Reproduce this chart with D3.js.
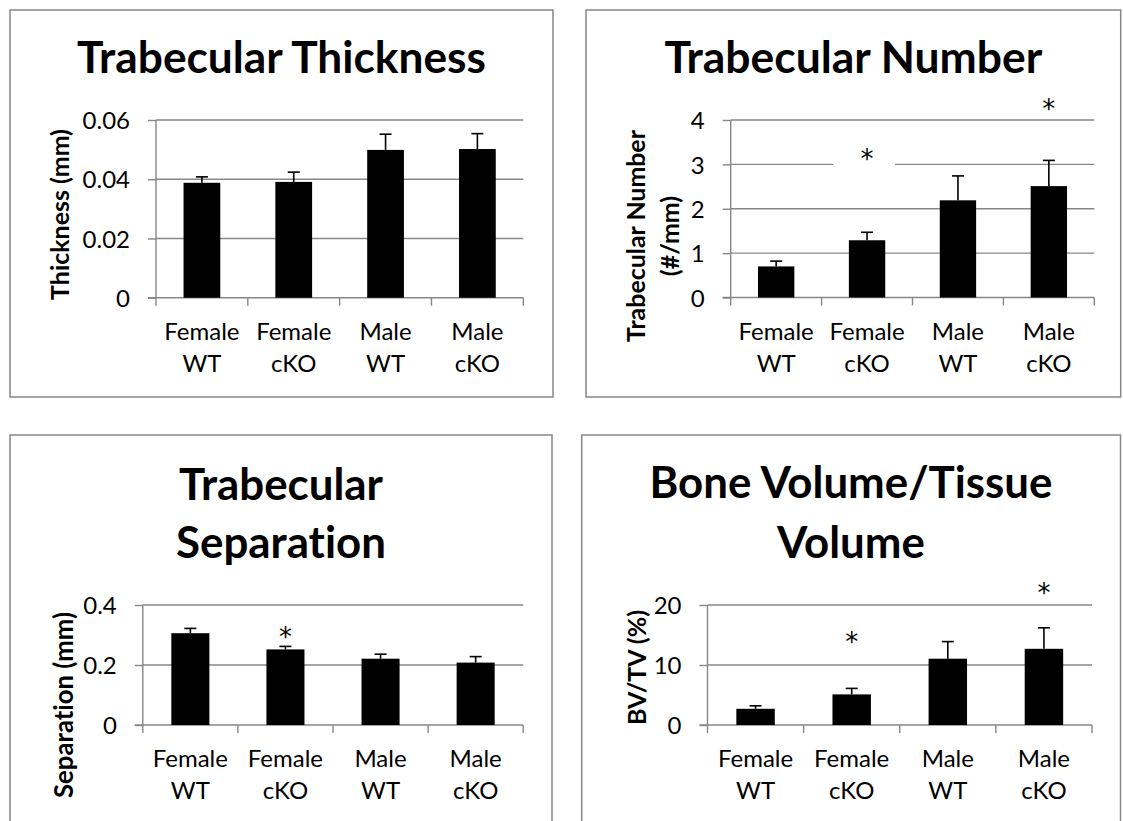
<!DOCTYPE html>
<html>
<head>
<meta charset="utf-8">
<script src="https://cdn.jsdelivr.net/npm/d3@7"></script>
<style>
  html, body { margin: 0; padding: 0; background: #fff; }
  svg { display: block; font-family: Lato, "Open Sans", sans-serif; font-variant-ligatures: none; }
</style>
</head>
<body>
<svg id="chart" width="1123" height="821"></svg>
<script>
// ---------- data ----------
const categories = [["Female", "WT"], ["Female", "cKO"], ["Male", "WT"], ["Male", "cKO"]];

const thicknessValues = [0.0388, 0.0391, 0.0499, 0.0502];
const thicknessErrors = [0.0020, 0.0033, 0.0053, 0.0052];
const thicknessTicks  = [0, 0.02, 0.04, 0.06];
const thicknessTickLabels = ["0", "0.02", "0.04", "0.06"];

const numberValues = [0.70, 1.29, 2.19, 2.51];
const numberErrors = [0.12, 0.18, 0.55, 0.58];
const numberTicks  = [0, 1, 2, 3, 4];
const numberTickLabels = ["0", "1", "2", "3", "4"];
const numberStars = [{ cat: 1, value: 3.28, mask: true }, { cat: 3, value: 4.41 }];

const separationValues = [0.306, 0.252, 0.221, 0.208];
const separationErrors = [0.016, 0.010, 0.015, 0.020];
const separationTicks  = [0, 0.2, 0.4];
const separationTickLabels = ["0", "0.2", "0.4"];
const separationStars = [{ cat: 1, value: 0.317 }];

const bvtvValues = [2.7, 5.1, 11.05, 12.7];
const bvtvErrors = [0.5, 1.0, 2.85, 3.5];
const bvtvTicks  = [0, 10, 20];
const bvtvTickLabels = ["0", "10", "20"];
const bvtvStars = [{ cat: 1, value: 15.0 }, { cat: 3, value: 23.2 }];

// ---------- drawing ----------
const svg = d3.select("#chart");
const GRID = "#878787";

// scale a text's font-size so that its first line spans the wanted length
function fitText(textSel, firstLine, target, base) {
  const len = firstLine.node().getComputedTextLength();
  textSel.attr("font-size", base * target / len);
}

function panel(cfg) {
  const g = svg.append("g");
  g.append("rect")
    .attr("x", cfg.box[0]).attr("y", cfg.box[1])
    .attr("width", cfg.box[2] - cfg.box[0]).attr("height", cfg.box[3] - cfg.box[1])
    .attr("fill", "#fff").attr("stroke", GRID).attr("stroke-width", 1.5);

  const x = d3.scaleBand().domain(d3.range(categories.length))
    .range([cfg.plot[0], cfg.plot[1]]).paddingInner(0.6).paddingOuter(0.3);
  const y = d3.scaleLinear().domain([0, cfg.ticks[cfg.ticks.length - 1]])
    .range([cfg.plot[3], cfg.plot[2]]);

  g.selectAll(".grid").data(cfg.ticks.slice(1)).enter().append("line")
    .attr("x1", cfg.plot[0]).attr("x2", cfg.plot[1])
    .attr("y1", d => y(d)).attr("y2", d => y(d))
    .attr("stroke", GRID).attr("stroke-width", 1.4);

  const yAxis = d3.axisLeft(y).tickValues(cfg.ticks).tickSize(8)
    .tickFormat((d, i) => cfg.tickLabels[i]).tickPadding(18);
  const ya = g.append("g").attr("transform", `translate(${cfg.plot[0]},0)`).call(yAxis);
  ya.select(".domain").attr("stroke", GRID).attr("stroke-width", 1.4).attr("d", `M0,${cfg.plot[3]}V${cfg.plot[2]}`);
  ya.selectAll(".tick line").attr("stroke", GRID).attr("stroke-width", 1.4);
  ya.selectAll(".tick text").attr("font-size", 24).attr("fill", "#000")
    .attr("font-family", "Lato, sans-serif").attr("dy", "0.36em");

  const bounds = d3.range(categories.length + 1).map(i => cfg.plot[0] + i * (cfg.plot[1] - cfg.plot[0]) / categories.length);
  g.append("line").attr("x1", cfg.plot[0] - 8).attr("x2", cfg.plot[1])
    .attr("y1", cfg.plot[3]).attr("y2", cfg.plot[3]).attr("stroke", GRID).attr("stroke-width", 1.4);
  g.selectAll(".xt").data(bounds).enter().append("line")
    .attr("x1", d => d).attr("x2", d => d)
    .attr("y1", cfg.plot[3]).attr("y2", cfg.plot[3] + 8)
    .attr("stroke", GRID).attr("stroke-width", 1.4);

  g.selectAll(".bar").data(cfg.values).enter().append("rect")
    .attr("x", (d, i) => x(i)).attr("width", x.bandwidth())
    .attr("y", d => y(d)).attr("height", d => y(0) - y(d))
    .attr("fill", "#000");

  const eb = g.selectAll(".err").data(cfg.values).enter().append("g");
  eb.append("line")
    .attr("x1", (d, i) => x(i) + x.bandwidth() / 2).attr("x2", (d, i) => x(i) + x.bandwidth() / 2)
    .attr("y1", d => y(d)).attr("y2", (d, i) => y(d + cfg.errors[i]))
    .attr("stroke", "#000").attr("stroke-width", 1.6);
  eb.append("line")
    .attr("x1", (d, i) => x(i) + x.bandwidth() / 2 - 6).attr("x2", (d, i) => x(i) + x.bandwidth() / 2 + 6)
    .attr("y1", (d, i) => y(d + cfg.errors[i])).attr("y2", (d, i) => y(d + cfg.errors[i]))
    .attr("stroke", "#000").attr("stroke-width", 1.6);

  const cl = g.selectAll(".cat").data(categories).enter().append("text")
    .attr("text-anchor", "middle").attr("font-size", 24).attr("fill", "#000");
  cl.append("tspan").attr("x", (d, i) => x(i) + x.bandwidth() / 2).attr("y", cfg.plot[3] + 42).text(d => d[0]);
  cl.append("tspan").attr("x", (d, i) => x(i) + x.bandwidth() / 2).attr("y", cfg.plot[3] + 74).text(d => d[1]);

  (cfg.stars || []).forEach(s => {
    const cx = x(s.cat) + x.bandwidth() / 2;
    if (s.mask) {
      g.append("rect").attr("x", cx - 34).attr("y", y(s.value) - 14).attr("width", 62).attr("height", 30).attr("fill", "#fff");
    }
    g.append("text").attr("x", cx).attr("y", y(s.value)).attr("dy", "0.62em")
      .attr("text-anchor", "middle").attr("font-size", 26).attr("fill", "#000")
      .attr("font-family", "'DejaVu Sans', sans-serif").text("*");
  });

  // title
  const t = g.append("text").attr("text-anchor", "middle").attr("font-weight", "bold")
    .attr("font-size", 40).attr("fill", "#000");
  cfg.title.forEach((line, i) => {
    t.append("tspan").attr("x", cfg.titleX).attr("y", cfg.titleY[i]).text(line);
  });
  fitText(t, t.select("tspan"), cfg.titleLen, 40);

  // y axis title
  const yl = g.append("text").attr("text-anchor", "middle").attr("font-weight", "bold")
    .attr("font-size", 20).attr("fill", "#000")
    .attr("transform", `translate(${cfg.yTitlePos[0]},${cfg.yTitlePos[1]}) rotate(-90)`);
  cfg.yTitle.forEach((line, i) => {
    yl.append("tspan").attr("x", 0).attr("y", (i - (cfg.yTitle.length - 1) / 2) * 34).attr("dy", "0.36em").text(line);
  });
  fitText(yl, yl.select("tspan"), cfg.yTitleLen, 20);
}

panel({
  box: [10, 10, 553, 397], plot: [156, 523.3, 120, 297.7],
  values: thicknessValues, errors: thicknessErrors, ticks: thicknessTicks, tickLabels: thicknessTickLabels,
  title: ["Trabecular Thickness"], titleX: 281.5, titleY: [72.7], titleLen: 409,
  yTitle: ["Thickness (mm)"], yTitlePos: [60, 214.5], yTitleLen: 171
});
panel({
  box: [586, 10, 1120.7, 397], plot: [730.7, 1094.3, 120, 297.5],
  values: numberValues, errors: numberErrors, ticks: numberTicks, tickLabels: numberTickLabels, stars: numberStars,
  title: ["Trabecular Number"], titleX: 853.3, titleY: [72.7], titleLen: 378,
  yTitle: ["Trabecular Number", "(#/mm)"], yTitlePos: [653, 236], yTitleLen: 212
});
panel({
  box: [10, 435, 552, 840], plot: [142.8, 523.2, 605, 725],
  values: separationValues, errors: separationErrors, ticks: separationTicks, tickLabels: separationTickLabels, stars: separationStars,
  title: ["Trabecular", "Separation"], titleX: 281, titleY: [500, 558], titleLen: 204,
  yTitle: ["Separation (mm)"], yTitlePos: [64, 705], yTitleLen: 186
});
panel({
  box: [581.7, 435, 1120.5, 840], plot: [707.5, 1092, 605, 725],
  values: bvtvValues, errors: bvtvErrors, ticks: bvtvTicks, tickLabels: bvtvTickLabels, stars: bvtvStars,
  title: ["Bone Volume/Tissue", "Volume"], titleX: 851, titleY: [498, 558], titleLen: 403,
  yTitle: ["BV/TV (%)"], yTitlePos: [637, 667.5], yTitleLen: 115
});
</script>
</body>
</html>
